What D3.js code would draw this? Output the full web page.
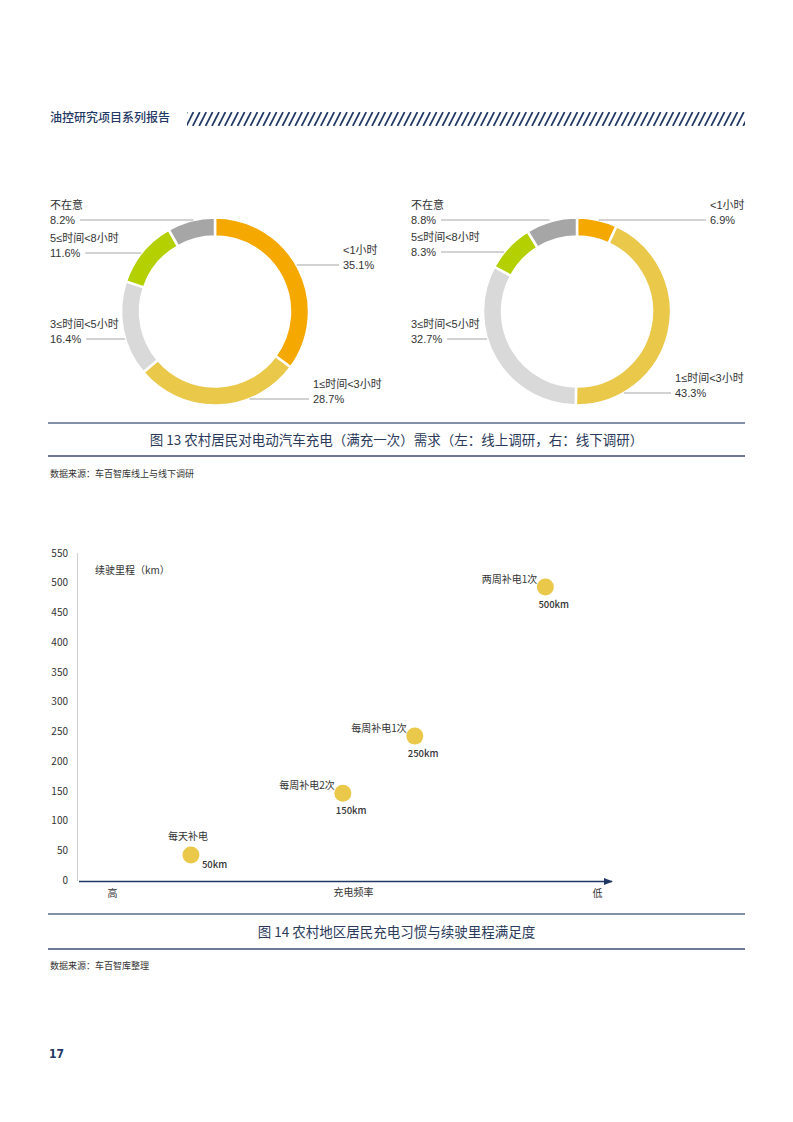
<!DOCTYPE html>
<html><head><meta charset="utf-8">
<script src="https://cdn.jsdelivr.net/npm/d3@7"></script>
<style>
body{margin:0;background:#fff;}
svg{display:block;font-family:"Noto Sans CJK SC","Noto Sans",sans-serif;}
</style></head>
<body>
<svg id="page" width="793" height="1122"></svg>
<script>
// ---------- data ----------
const donutCategories = ["<1小时", "1≤时间<3小时", "3≤时间<5小时", "5≤时间<8小时", "不在意"];
const onlineValues  = [35.1, 28.7, 16.4, 11.6, 8.2];
const offlineValues = [6.9, 43.3, 32.7, 8.3, 8.8];
const donutColors = ["#F5A800", "#E9C84A", "#D9D9D9", "#B4D000", "#A6A6A6"];

const scatterNames  = ["每天补电", "每周补电2次", "每周补电1次", "两周补电1次"];
const scatterRange  = [42, 146, 242, 493];        // y value (km)
const scatterFreqPos = [21, 49.5, 63, 87.5];      // position along frequency axis (0-100, high→low)
const scatterValueLabels = ["50km", "150km", "250km", "500km"];
const yTicks = [0, 50, 100, 150, 200, 250, 300, 350, 400, 450, 500, 550];
const xAxisLabels = ["高", "充电频率", "低"];

const svg = d3.select("#page");
const navy = "#1F3864";
const textC = "#333333";
const labelFont = '"Liberation Sans","Noto Sans CJK SC",sans-serif';

// ---------- header ----------
svg.append("text").attr("x", 50).attr("y", 122).attr("font-size", 12).attr("font-weight", 500)
  .attr("fill", navy).text("油控研究项目系列报告");
const clip = svg.append("defs").append("clipPath").attr("id", "hclip");
clip.append("rect").attr("x", 187).attr("y", 112).attr("width", 558).attr("height", 14);
const hatch = svg.append("g").attr("clip-path", "url(#hclip)");
for (let x = 180; x < 760; x += 6.4) {
  hatch.append("line").attr("x1", x).attr("y1", 126).attr("x2", x + 7).attr("y2", 112)
    .attr("stroke", navy).attr("stroke-width", 1.7);
}

// ---------- donuts ----------
const R = 94, r = 75;
function donut(cx, cy, values, labelLayout) {
  const g = svg.append("g").attr("transform", `translate(${cx},${cy})`);
  const pie = d3.pie().sort(null).value(d => d);
  const arc = d3.arc().innerRadius(r).outerRadius(R);
  g.selectAll("path").data(pie(values)).join("path")
    .attr("d", arc).attr("fill", (d, i) => donutColors[i])
    .attr("stroke", "#fff").attr("stroke-width", 2.5);
  labelLayout.forEach((L, i) => {
    svg.append("text").attr("x", L.x).attr("y", L.ly - 11).attr("font-size", 11)
      .attr("font-family", labelFont)
      .attr("fill", textC).attr("text-anchor", "start").text(donutCategories[i]);
    const pct = svg.append("text").attr("x", L.x).attr("y", L.ly + 4).attr("font-size", 11)
      .attr("font-family", labelFont)
      .attr("fill", textC).attr("text-anchor", "start").text(values[i].toFixed(1) + "%");
    const dy = L.ly - cy;
    const dx = Math.sqrt(Math.max(0, R * R - dy * dy));
    let x1, x2;
    if (L.side === "left") {
      x1 = L.x + pct.node().getComputedTextLength() + 5;
      x2 = cx - dx + (L.inset || 0);
    } else {
      x1 = cx + dx;
      x2 = L.x - 4;
    }
    svg.append("line").attr("x1", x1).attr("x2", x2).attr("y1", L.ly).attr("y2", L.ly)
      .attr("stroke", "#A6A6A6").attr("stroke-width", 1);
  });
}
donut(215, 311.5, onlineValues, [
  {side: "right", x: 343, ly: 265},
  {side: "right", x: 313, ly: 399},
  {side: "left", x: 50, ly: 339},
  {side: "left", x: 50, ly: 253},
  {side: "left", x: 50, ly: 220}
]);
donut(577, 311.5, offlineValues, [
  {side: "right", x: 710, ly: 220},
  {side: "right", x: 675, ly: 393},
  {side: "left", x: 411, ly: 339},
  {side: "left", x: 411, ly: 252},
  {side: "left", x: 411, ly: 220, inset: -6}
]);

// ---------- captions ----------
function caption(yTop, yBot, text, srcY, src) {
  svg.append("line").attr("x1", 48).attr("x2", 745).attr("y1", yTop).attr("y2", yTop)
    .attr("stroke", "#8391A8").attr("stroke-width", 2);
  svg.append("line").attr("x1", 48).attr("x2", 745).attr("y1", yBot).attr("y2", yBot)
    .attr("stroke", "#3C4E72").attr("stroke-width", 1.5);
  svg.append("text").attr("x", 396.5).attr("y", (yTop + yBot) / 2 + 5).attr("text-anchor", "middle")
    .attr("font-size", 13.5).attr("fill", "#2B3A5A").text(text);
  svg.append("text").attr("x", 50).attr("y", srcY).attr("font-size", 9).attr("fill", textC).text(src);
}
caption(423, 456, "图 13 农村居民对电动汽车充电（满充一次）需求（左：线上调研，右：线下调研）", 477, "数据来源：车百智库线上与线下调研");
caption(914, 949, "图 14 农村地区居民充电习惯与续驶里程满足度", 969, "数据来源：车百智库整理");

// ---------- scatter ----------
const y = d3.scaleLinear().domain([0, 550]).range([880, 553]);
const x = d3.scaleLinear().domain([0, 100]).range([79, 612]);
svg.append("line").attr("x1", 77.5).attr("x2", 77.5).attr("y1", 553).attr("y2", 881)
  .attr("stroke", "#D0D0D0").attr("stroke-width", 1);
const yAxis = svg.append("g").attr("transform", "translate(77,0)")
  .call(d3.axisLeft(y).tickValues(yTicks).tickSize(0).tickPadding(9));
yAxis.select(".domain").remove();
yAxis.selectAll("text").attr("font-size", 10).attr("fill", textC)
  .attr("font-family", '"Noto Sans CJK SC","Noto Sans",sans-serif');

// x arrow axis
svg.append("defs").append("marker").attr("id", "arrow").attr("viewBox", "0 0 10 10")
  .attr("refX", 9).attr("refY", 5).attr("markerWidth", 6).attr("markerHeight", 6)
  .attr("orient", "auto").append("path").attr("d", "M0,1 L10,5 L0,9 Z").attr("fill", navy);
svg.append("line").attr("x1", x(0)).attr("x2", x(100)).attr("y1", 881.5).attr("y2", 881.5)
  .attr("stroke", navy).attr("stroke-width", 1.5).attr("marker-end", "url(#arrow)");
const xLabPos = [6.3, 51.5, 97.3];
xAxisLabels.forEach((t, i) => {
  svg.append("text").attr("x", x(xLabPos[i])).attr("y", i === 1 ? 896 : 897).attr("text-anchor", "middle")
    .attr("font-size", 10).attr("fill", textC).text(t);
});
svg.append("text").attr("x", 95).attr("y", 574).attr("font-size", 10).attr("fill", textC).text("续驶里程（km）");

const pts = svg.append("g");
scatterNames.forEach((n, i) => {
  const cx = x(scatterFreqPos[i]), cy = y(scatterRange[i]);
  pts.append("circle").attr("cx", cx).attr("cy", cy).attr("r", 8.5).attr("fill", "#E9C84A");
  if (i === 0) {
    pts.append("text").attr("x", cx - 3).attr("y", cy - 15).attr("text-anchor", "middle")
      .attr("font-size", 10).attr("fill", textC).text(n);
    pts.append("text").attr("x", cx + 11).attr("y", cy + 13).attr("font-size", 9.5).attr("font-weight", 500)
      .attr("fill", textC).text(scatterValueLabels[i]);
  } else {
    pts.append("text").attr("x", cx - 8).attr("y", cy - 4).attr("text-anchor", "end")
      .attr("font-size", 10).attr("fill", textC).text(n);
    pts.append("text").attr("x", cx - 7).attr("y", cy + 21).attr("font-size", 9.5).attr("font-weight", 500)
      .attr("fill", textC).text(scatterValueLabels[i]);
  }
});

// page number
svg.append("text").attr("x", 49).attr("y", 1058).attr("font-size", 12).attr("font-weight", "bold")
  .attr("fill", "#1F3864").attr("font-family", "Liberation Sans Narrow, DejaVu Sans Condensed, sans-serif").text("17");
</script>
</body></html>
